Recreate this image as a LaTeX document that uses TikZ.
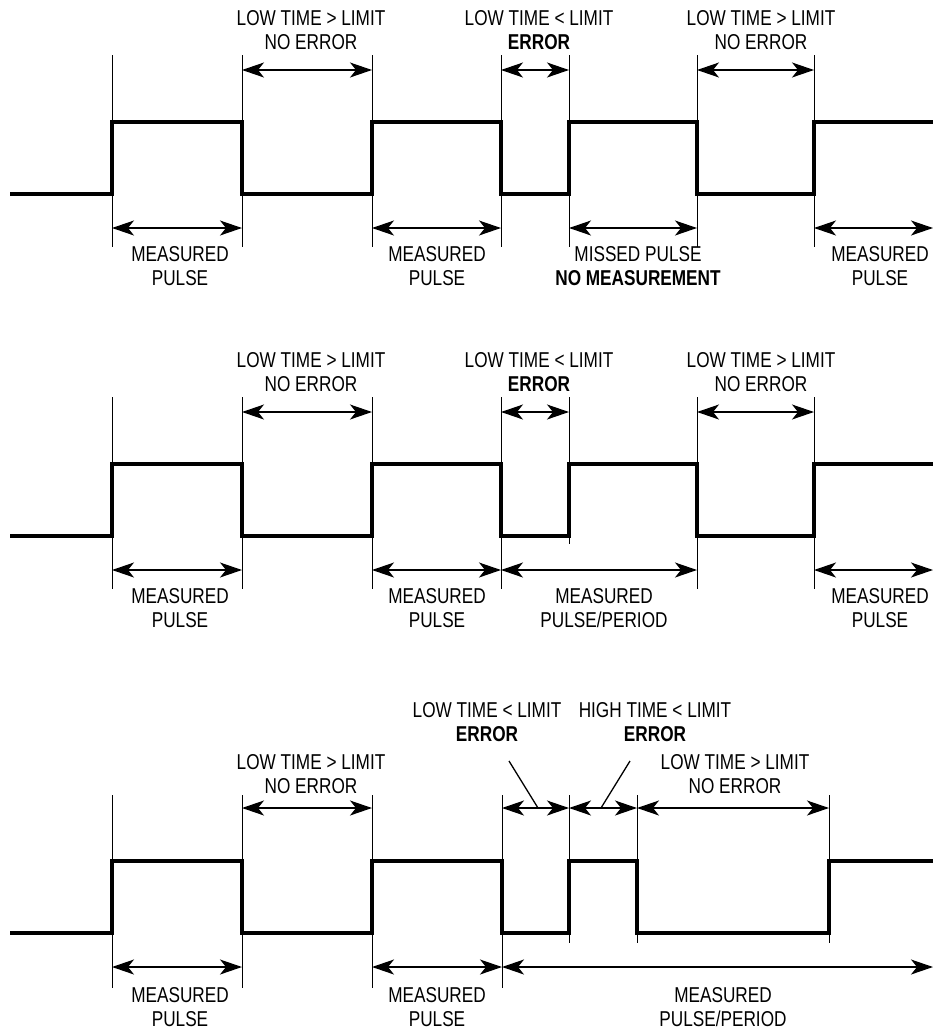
\documentclass[tikz,border=0pt]{standalone}
\usepackage{fontspec}
\setmainfont{Liberation Sans}[FakeStretch=0.8]
\usetikzlibrary{arrows.meta}
\tikzset{
  signal/.style={line width=3.1pt, line join=miter},
  guide/.style={line width=0.8pt},
  tiphead/.tip={Stealth[length=22pt 0 0,width=15pt 0 0,inset=6pt 0 0]},
  dimline/.style={line width=1.3pt, tiphead-tiphead},
  lbl/.style={font=\fontsize{21.5}{24}\selectfont, align=center, anchor=north, inner sep=0pt},
  pointer/.style={line width=1.3pt},
}
\begin{document}
\begin{tikzpicture}[x=1pt,y=-1pt]
\useasboundingbox (0,0) rectangle (933,1029);

% ================= Diagram 1 =================
\draw[signal] (10,194) -- (112,194) -- (112,122) -- (242,122) -- (242,194) -- (372,194) -- (372,122)
  -- (501,122) -- (501,194) -- (569,194) -- (569,122) -- (697,122) -- (697,194) -- (814,194) -- (814,122) -- (933,122);
\foreach \x/\n in {112/a,242/b,372/c,501/d,569/e,697/f,814/g}{
  \coordinate (A\n t) at (\x,55);
  \coordinate (A\n b) at (\x,247);
  \coordinate (A\n u) at (\x,70);
  \coordinate (A\n l) at (\x,228);
  \draw[guide] (A\n t) -- (A\n b);
}
\coordinate (Aend) at (933,228);
\draw[dimline] (Abu) -- (Acu);
\draw[dimline] (Adu) -- (Aeu);
\draw[dimline] (Afu) -- (Agu);
\draw[dimline] (Aal) -- (Abl);
\draw[dimline] (Acl) -- (Adl);
\draw[dimline] (Ael) -- (Afl);
\draw[dimline] (Agl) -- (Aend);
\node[lbl] (A1) at (311,10) {LOW TIME > LIMIT\\NO ERROR};
\node[lbl] (A2) at (539,10) {LOW TIME < LIMIT\\\textbf{ERROR}};
\node[lbl] (A3) at (761,10) {LOW TIME > LIMIT\\NO ERROR};
\node[lbl] (A4) at (180,246) {MEASURED\\PULSE};
\node[lbl] (A5) at (437,246) {MEASURED\\PULSE};
\node[lbl] (A6) at (638,246) {MISSED PULSE\\\textbf{NO MEASUREMENT}};
\node[lbl] (A7) at (880,246) {MEASURED\\PULSE};

% ================= Diagram 2 =================
\draw[signal] (10,536) -- (112,536) -- (112,464) -- (242,464) -- (242,536) -- (372,536) -- (372,464)
  -- (501,464) -- (501,536) -- (569,536) -- (569,464) -- (697,464) -- (697,536) -- (814,536) -- (814,464) -- (933,464);
\foreach \x/\n in {112/a,242/b,372/c,501/d,697/f,814/g}{
  \coordinate (B\n t) at (\x,397);
  \coordinate (B\n b) at (\x,589);
  \coordinate (B\n u) at (\x,412);
  \coordinate (B\n l) at (\x,570);
  \draw[guide] (B\n t) -- (B\n b);
}
\coordinate (Bet) at (569,397);
\coordinate (Beb) at (569,544);
\coordinate (Beu) at (569,412);
\draw[guide] (Bet) -- (Beb);
\coordinate (Bend) at (933,570);
\draw[dimline] (Bbu) -- (Bcu);
\draw[dimline] (Bdu) -- (Beu);
\draw[dimline] (Bfu) -- (Bgu);
\draw[dimline] (Bal) -- (Bbl);
\draw[dimline] (Bcl) -- (Bdl);
\draw[dimline] (Bdl) -- (Bfl);
\draw[dimline] (Bgl) -- (Bend);
\node[lbl] (B1) at (311,352) {LOW TIME > LIMIT\\NO ERROR};
\node[lbl] (B2) at (539,352) {LOW TIME < LIMIT\\\textbf{ERROR}};
\node[lbl] (B3) at (761,352) {LOW TIME > LIMIT\\NO ERROR};
\node[lbl] (B4) at (180,588) {MEASURED\\PULSE};
\node[lbl] (B5) at (437,588) {MEASURED\\PULSE};
\node[lbl] (B6) at (604,588) {MEASURED\\PULSE/PERIOD};
\node[lbl] (B7) at (880,588) {MEASURED\\PULSE};

% ================= Diagram 3 =================
\draw[signal] (10,933) -- (112,933) -- (112,861) -- (242,861) -- (242,933) -- (372,933) -- (372,861)
  -- (502,861) -- (502,933) -- (569,933) -- (569,861) -- (637,861) -- (637,933) -- (829,933) -- (829,861) -- (933,861);
\foreach \x/\n in {112/a,242/b,372/c,502/d}{
  \coordinate (C\n t) at (\x,795);
  \coordinate (C\n b) at (\x,988);
  \coordinate (C\n u) at (\x,808);
  \coordinate (C\n l) at (\x,967);
  \draw[guide] (C\n t) -- (C\n b);
}
\foreach \x/\n in {569/e,637/f,829/g}{
  \coordinate (C\n t) at (\x,795);
  \coordinate (C\n b) at (\x,943);
  \coordinate (C\n u) at (\x,808);
  \draw[guide] (C\n t) -- (C\n b);
}
\coordinate (Cend) at (933,967);
\draw[dimline] (Cbu) -- (Ccu);
\draw[dimline] (Cdu) -- (Ceu);
\draw[dimline] (Ceu) -- (Cfu);
\draw[dimline] (Cfu) -- (Cgu);
\draw[dimline] (Cal) -- (Cbl);
\draw[dimline] (Ccl) -- (Cdl);
\draw[dimline] (Cdl) -- (Cend);
\node[lbl] (C1) at (311,754) {LOW TIME > LIMIT\\NO ERROR};
\node[lbl] (C2) at (487,702) {LOW TIME < LIMIT\\\textbf{ERROR}};
\node[lbl] (C3) at (655,702) {HIGH TIME < LIMIT\\\textbf{ERROR}};
\node[lbl] (C4) at (735,754) {LOW TIME > LIMIT\\NO ERROR};
\node[lbl] (C5) at (180,987) {MEASURED\\PULSE};
\node[lbl] (C6) at (437,987) {MEASURED\\PULSE};
\node[lbl] (C7) at (723,987) {MEASURED\\PULSE/PERIOD};
\coordinate (P1a) at (509,761);
\coordinate (P1b) at (538,808);
\coordinate (P2a) at (630,761);
\coordinate (P2b) at (601,808);
\draw[pointer] (P1a) -- (P1b);
\draw[pointer] (P2a) -- (P2b);
\end{tikzpicture}
\end{document}
